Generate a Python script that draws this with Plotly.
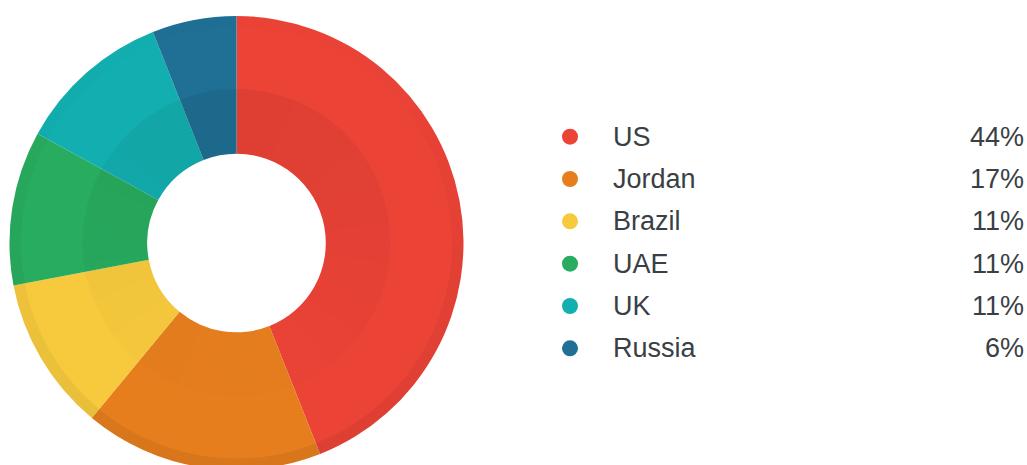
import math
import plotly.graph_objects as go

# ---- data ----
countries = ["US", "Jordan", "Brazil", "UAE", "UK", "Russia"]
shares = [44, 17, 11, 11, 11, 6]
colors = ["#EC4337", "#E67E1E", "#F7CA3D", "#28AC5F", "#13AFB0", "#1F7094"]

# ---- layout constants ----
W, H = 1027, 472
CX, CY = 236.5, 243.0      # donut centre in px (from top-left)
R_OUT, R_HOLE = 227.0, 89.3
R_BAND = 154.0
R_RIM = 215.5
TEXT_COLOR = "#3a3f45"
FONT = "Liberation Sans, Arial, sans-serif"
N_SHADE = 48  # segments used to draw the soft shading rings


def dom(r):
    return dict(
        x=[(CX - r) / W, (CX + r) / W],
        y=[(H - CY - r) / H, (H - CY + r) / H],
    )


def shade_colors(a_top, a_bottom):
    out = []
    for k in range(N_SHADE):
        th = math.radians((k + 0.5) * 360 / N_SHADE)
        t = (1 + math.cos(th)) / 2  # 1 at top, 0 at bottom
        a = a_bottom + (a_top - a_bottom) * t
        out.append(f"rgba(0,0,0,{a:.4f})")
    return out


fig = go.Figure()

# main donut
fig.add_trace(go.Pie(
    labels=countries, values=shares, sort=False, direction="clockwise",
    rotation=0, hole=R_HOLE / R_OUT, domain=dom(R_OUT),
    marker=dict(colors=colors, line=dict(width=0)),
    textinfo="none", hoverinfo="label+percent", showlegend=False,
))

# subtle inner darker band (darker at top, fading downward)
fig.add_trace(go.Pie(
    values=[1] * N_SHADE, labels=[f"b{k}" for k in range(N_SHADE)],
    hole=R_HOLE / R_BAND, domain=dom(R_BAND), sort=False,
    direction="clockwise", rotation=0,
    marker=dict(colors=shade_colors(0.055, 0.008), line=dict(width=0)),
    textinfo="none", hoverinfo="skip", showlegend=False,
))

# subtle outer rim (darker at bottom)
fig.add_trace(go.Pie(
    values=[1] * N_SHADE, labels=[f"r{k}" for k in range(N_SHADE)],
    hole=R_RIM / R_OUT, domain=dom(R_OUT), sort=False,
    direction="clockwise", rotation=0,
    marker=dict(colors=shade_colors(0.004, 0.06), line=dict(width=0)),
    textinfo="none", hoverinfo="skip", showlegend=False,
))

# custom legend: dots on a categorical axis
DOT_X, LABEL_X, PCT_X = 570, 611, 1026
ROW_TOP, ROW_BOTTOM = 115.5, 369.5   # px from top spanning the 6 rows

fig.add_trace(go.Scatter(
    x=[DOT_X] * len(countries), y=countries, mode="markers",
    marker=dict(color=colors, size=16, line=dict(width=0)),
    hoverinfo="skip", showlegend=False,
))

annotations = []
for name, val in zip(countries, shares):
    annotations.append(dict(
        x=LABEL_X, y=name, xref="x", yref="y", text=name, showarrow=False,
        xanchor="left", yanchor="middle",
        font=dict(family=FONT, size=27, color=TEXT_COLOR),
    ))
    annotations.append(dict(
        x=PCT_X, y=name, xref="x", yref="y", text=f"{val}%", showarrow=False,
        xanchor="right", yanchor="middle",
        font=dict(family=FONT, size=27, color=TEXT_COLOR),
    ))

fig.update_layout(
    width=W, height=H,
    margin=dict(l=0, r=0, t=0, b=0),
    paper_bgcolor="white", plot_bgcolor="rgba(0,0,0,0)",
    annotations=annotations,
    xaxis=dict(range=[0, W], domain=[0, 1], visible=False, fixedrange=True),
    yaxis=dict(
        type="category", categoryorder="array", categoryarray=countries,
        range=[len(countries) - 0.5, -0.5],
        domain=[(H - ROW_BOTTOM) / H, (H - ROW_TOP) / H],
        visible=False, fixedrange=True,
    ),
    font=dict(family=FONT),
)

fig.write_html(
    "out.html",
    config={"displayModeBar": False},
    post_script="document.body.style.margin='0';document.body.style.overflow='hidden';document.documentElement.style.overflow='hidden';",
)
